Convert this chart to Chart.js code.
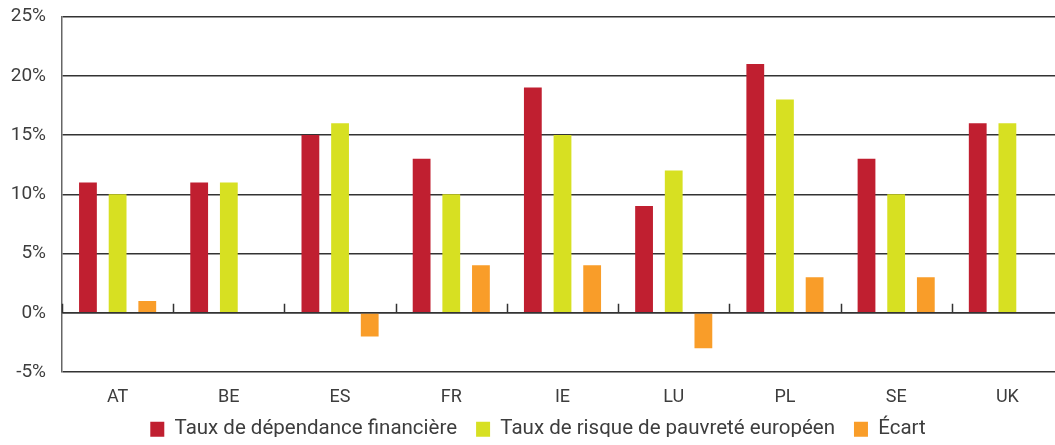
<!DOCTYPE html>
<html>
<head>
<meta charset="utf-8">
<script src="https://cdn.jsdelivr.net/npm/chart.js@4/dist/chart.umd.min.js"></script>
<style>
  html, body { margin: 0; padding: 0; background: #fff; overflow: hidden; width: 1055px; height: 445px; }
  canvas { display: block; }
</style>
</head>
<body>
<canvas id="c" width="1076" height="445"></canvas>
<script>
// Countries on the category axis
const countries = ['AT', 'BE', 'ES', 'FR', 'IE', 'LU', 'PL', 'SE', 'UK'];

// Series values, in percent
const dependanceFinanciere = [11, 11, 15, 13, 19, 9, 21, 13, 16];
const risquePauvrete       = [10, 11, 16, 10, 15, 12, 18, 10, 16];
const ecart                = [1, 0, -2, 4, 4, -3, 3, 3, 0];

// Series names shown in the legend
const seriesNames = [
  'Taux de dépendance financière',
  'Taux de risque de pauvreté européen',
  'Écart'
];

// Value-axis range and step, in percent
const yMin = -5, yMax = 25, yStep = 5;

const FONT = "'Roboto', 'DejaVu Sans', sans-serif";
const TEXT = '#3d3d3d';

// Small upward tick marks between countries on the zero line
const zeroTicks = {
  id: 'zeroTicks',
  afterDatasetsDraw(chart) {
    const x = chart.scales.x, y = chart.scales.y;
    const y0 = y.getPixelForValue(0);
    const ctx = chart.ctx;
    ctx.save();
    ctx.strokeStyle = '#333';
    ctx.lineWidth = 1.5;
    ctx.beginPath();
    ctx.moveTo(chart.chartArea.left, y0);
    ctx.lineTo(chart.chartArea.right, y0);
    for (let i = 0; i <= countries.length; i++) {
      const px = Math.round(x.getPixelForValue(i - 0.5)) + 0.5;
      ctx.moveTo(px, y0);
      ctx.lineTo(px, y0 - 9);
    }
    ctx.stroke();
    ctx.restore();
  }
};

// Keep the legend band compact and lift it slightly towards the axis labels
const compactLegend = {
  id: 'compactLegend',
  afterInit(chart) {
    const lg = chart.legend;
    const fit = lg.fit.bind(lg);
    lg.fit = function () { fit(); this.height = 37; };
  },
  afterLayout(chart) {
    const lg = chart.legend;
    lg.top -= 8;
    lg.bottom -= 8;
  }
};

new Chart(document.getElementById('c'), {
  type: 'bar',
  data: {
    labels: countries,
    datasets: [
      { label: seriesNames[0], data: dependanceFinanciere, backgroundColor: '#C01F30' },
      { label: seriesNames[1], data: risquePauvrete,       backgroundColor: '#D7E022' },
      { label: seriesNames[2], data: ecart,                backgroundColor: '#F99D29' }
    ]
  },
  options: {
    responsive: false,
    animation: false,
    devicePixelRatio: 1,
    layout: { padding: { top: 16.5, left: 0, right: 0, bottom: 0 } },
    datasets: { bar: { categoryPercentage: 0.8, barPercentage: 0.6 } },
    plugins: {
      tooltip: { enabled: false },
      legend: {
        position: 'bottom',
        labels: {
          boxWidth: 14,
          boxHeight: 15,
          padding: 19,
          color: TEXT,
          font: { family: FONT, size: 20.5 }
        }
      }
    },
    scales: {
      x: {
        grid: { display: false },
        border: { display: false },
        ticks: { color: TEXT, padding: 7, font: { family: FONT, size: 18 } },
        afterFit(s) { s.height = 36; }
      },
      y: {
        min: yMin,
        max: yMax,
        ticks: {
          stepSize: yStep,
          padding: 16,
          color: TEXT,
          font: { family: FONT, size: 19 },
          callback: v => v + '%'
        },
        grid: { color: '#333', lineWidth: 1.5, drawTicks: false },
        border: { display: true, color: '#666', width: 1.5 },
        afterFit(s) {
          s.width = 62;
          s.paddingTop = 0;
          s.paddingBottom = 0;
        }
      },
      yRight: {
        position: 'right',
        display: true,
        grid: { display: false, drawTicks: false },
        border: { display: false },
        ticks: { display: false },
        afterFit(s) { s.width = 13; }
      }
    }
  },
  plugins: [zeroTicks, compactLegend]
});
</script>
</body>
</html>
